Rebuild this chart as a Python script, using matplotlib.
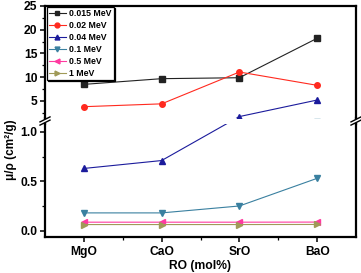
import matplotlib
matplotlib.use("Agg")
import matplotlib.pyplot as plt
from matplotlib.lines import Line2D
from matplotlib.ticker import FixedLocator

plt.rcParams['font.family'] = ['Liberation Sans', 'DejaVu Sans']
plt.rcParams['font.weight'] = 'bold'

categories = ['MgO', 'CaO', 'SrO', 'BaO']
labels = ['0.015 MeV', '0.02 MeV', '0.04 MeV', '0.1 MeV', '0.5 MeV', '1 MeV']
e_0015 = [8.5, 9.7, 9.9, 18.2]
e_002 = [3.8, 4.4, 11.1, 8.3]
e_004 = [0.63, 0.71, 1.72, 5.2]
e_01 = [0.18, 0.18, 0.25, 0.53]
e_05 = [0.086, 0.086, 0.086, 0.087]
e_1 = [0.062, 0.062, 0.062, 0.063]
series = [e_0015, e_002, e_004, e_01, e_05, e_1]
colors = ['#222222', '#ff2a1f', '#1b1b9c', '#3a80a0', '#ff3aa0', '#a09a58']
markers = ['s', 'o', '^', 'v', '<', '>']

W, H = 361, 273
fig = plt.figure(figsize=(W / 100, H / 100), dpi=100)

def fx(px):
    return px / W

def fy(py):
    return 1 - py / H

L, R = 45, 356
top_y0, top_y1 = 6, 118
bot_y0, bot_y1 = 124, 237

ax_top = fig.add_axes([fx(L), fy(top_y1), fx(R - L), fy(top_y0) - fy(top_y1)])
ax_bot = fig.add_axes([fx(L), fy(bot_y1), fx(R - L), fy(bot_y0) - fy(bot_y1)])

TOP_LIM = (1.42, 25)
BOT_LIM = (-0.064, 1.08)
ax_top.set_ylim(*TOP_LIM)
ax_bot.set_ylim(*BOT_LIM)
x = list(range(len(categories)))
for ax in (ax_top, ax_bot):
    ax.set_xlim(-0.5, 3.5)
    for s in ax.spines.values():
        s.set_linewidth(1.6)
    ax.tick_params(axis='both', which='major', direction='out', length=3.5, width=1.1,
                   labelsize=8.7, pad=2)
    ax.tick_params(axis='both', which='minor', direction='out', length=2, width=0.9)

ax_top.spines['bottom'].set_visible(False)
ax_bot.spines['top'].set_visible(False)
ax_top.tick_params(axis='x', which='both', bottom=False, labelbottom=False)
ax_top.yaxis.set_major_locator(FixedLocator([5, 10, 15, 20, 25]))
ax_top.yaxis.set_minor_locator(FixedLocator([2.5, 7.5, 12.5, 17.5, 22.5]))
ax_bot.yaxis.set_major_locator(FixedLocator([0.0, 0.5, 1.0]))
ax_bot.yaxis.set_minor_locator(FixedLocator([0.25, 0.75]))
ax_bot.set_yticklabels(['0.0', '0.5', '1.0'])
ax_bot.set_xticks(x)
ax_bot.set_xticklabels(categories)
ax_bot.xaxis.set_minor_locator(FixedLocator([0.5, 1.5, 2.5]))
ax_bot.tick_params(axis='x', which='major', pad=3)

for ax in (ax_top, ax_bot):
    for lab in ax.get_xticklabels() + ax.get_yticklabels():
        lab.set_fontweight('bold')

lw = 0.8
ms = 4
handles = []
for i, (vals, c, m, lab) in enumerate(zip(series, colors, markers, labels)):
    if i == 2:
        # broken series: low values in bottom panel, high in top panel
        ax_bot.plot(x[:2], vals[:2], color=c, marker=m, ms=ms, lw=lw, zorder=3)
        ax_top.plot(x[2:], vals[2:], color=c, marker=m, ms=ms, lw=lw, zorder=3)
        p_low = ax_bot.transData.transform((x[1], vals[1]))
        p_high = ax_top.transData.transform((x[2], vals[2]))
        hb = ax_bot.transData.inverted().transform(p_high)
        lt = ax_top.transData.inverted().transform(p_low)
        ax_bot.plot([x[1], hb[0]], [vals[1], hb[1]], color=c, lw=lw, zorder=2)
        ax_top.plot([lt[0], x[2]], [lt[1], vals[2]], color=c, lw=lw, zorder=2)
    else:
        for ax in (ax_top, ax_bot):
            ax.plot(x, vals, color=c, marker=m, ms=ms, lw=lw, zorder=3)
    handles.append(Line2D([], [], color=c, marker=m, ms=3.5, lw=lw))

leg = ax_top.legend(handles, labels, loc='upper left', bbox_to_anchor=(0.005, 0.995),
                    prop={'size': 6.3, 'weight': 'bold'}, frameon=True, fancybox=False,
                    edgecolor='black', handlelength=1.9, handletextpad=0.35,
                    labelspacing=0.33, borderpad=0.3, borderaxespad=0.0,
                    shadow={'color': 'black', 'alpha': 1.0, 'ox': 0.8, 'oy': -0.8})
leg.get_frame().set_linewidth(0.9)
leg.set_zorder(10)

# continuous spines across the break gap, with break marks
yb = 121
for xp in (L, R):
    fig.add_artist(Line2D([fx(xp), fx(xp)], [fy(top_y1), fy(bot_y0)], color='black',
                          lw=1.6, transform=fig.transFigure))
    y_a, y_b = yb - 1.6, yb + 1.6
    fig.add_artist(plt.Polygon([(fx(xp - 5), fy(y_a + 2.5)), (fx(xp + 5), fy(y_a - 2.5)),
                                (fx(xp + 5), fy(y_b - 2.5)), (fx(xp - 5), fy(y_b + 2.5))],
                               closed=True, facecolor='white', edgecolor='none',
                               transform=fig.transFigure, zorder=5))
    for yc in (y_a, y_b):
        fig.add_artist(Line2D([fx(xp - 5), fx(xp + 5)], [fy(yc + 2.5), fy(yc - 2.5)],
                              color='black', lw=1.0, transform=fig.transFigure, zorder=6))

fig.text(fx(11), fy(150), 'μ/ρ (cm²/g)', rotation=90, ha='center', va='center',
         fontsize=8.5, fontweight='bold')
fig.text(fx(200), fy(266.5), 'RO (mol%)', ha='center', va='center', fontsize=8.7,
         fontweight='bold')

fig.savefig('out.png', dpi=100)
